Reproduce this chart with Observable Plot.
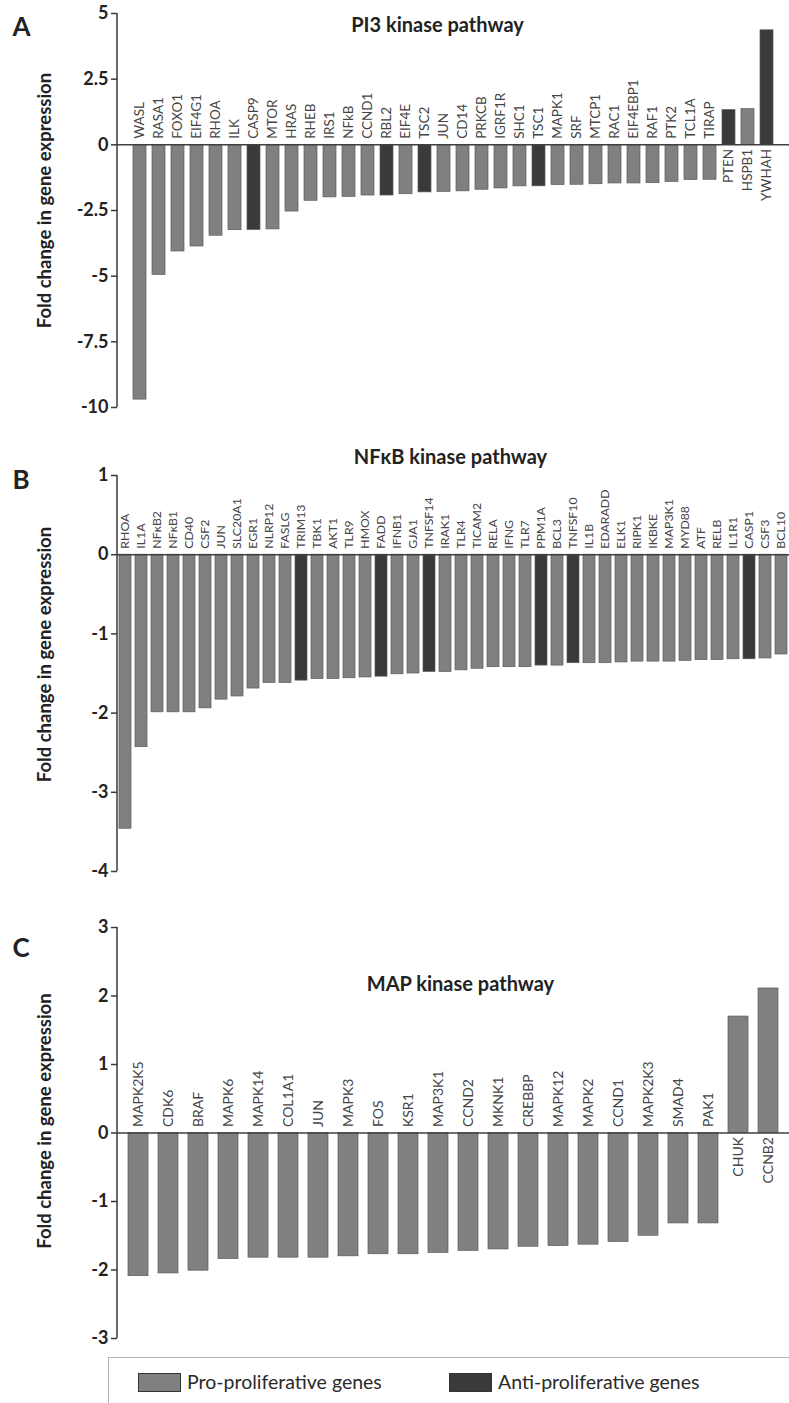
<!DOCTYPE html>
<html><head><meta charset="utf-8">
<script src="https://cdn.jsdelivr.net/npm/d3@7"></script>
<script src="https://cdn.jsdelivr.net/npm/@observablehq/plot@0.6"></script>
<style>
body{margin:0;background:#fff;font-family:Lato,"Open Sans",sans-serif;}
#wrap{position:relative;width:789px;height:1403px;overflow:hidden;background:#fff}
#wrap svg{display:block}
.legend{position:absolute;left:108px;top:1357px;width:720px;height:70px;border:1px solid #b5b5b5;box-sizing:border-box}
.sw{position:absolute;top:15px;width:43px;height:19px;box-sizing:border-box;border:1.2px solid #333}
.lt{position:absolute;top:12px;font-size:19.5px;color:#2a2a2a;line-height:24px;white-space:nowrap}
</style></head>
<body>
<div id="wrap">
<div id="charts"></div>
<div class="legend">
  <span class="sw" style="left:29px;background:#808080"></span><span class="lt" style="left:78px">Pro-proliferative genes</span>
  <span class="sw" style="left:340px;background:#3a3a3a"></span><span class="lt" style="left:389px">Anti-proliferative genes</span>
</div>
</div>
<script>
// ---- Panel A: PI3 kinase pathway ----
const genesA = ["WASL","RASA1","FOXO1","EIF4G1","RHOA","ILK","CASP9","MTOR","HRAS","RHEB","IRS1","NFkB","CCND1","RBL2","EIF4E","TSC2","JUN","CD14","PRKCB","IGRF1R","SHC1","TSC1","MAPK1","SRF","MTCP1","RAC1","EIF4EBP1","RAF1","PTK2","TCL1A","TIRAP","PTEN","HSPB1","YWHAH"];
const valuesA = [-9.7,-4.95,-4.06,-3.87,-3.46,-3.25,-3.24,-3.22,-2.54,-2.13,-2.0,-1.98,-1.93,-1.93,-1.88,-1.81,-1.79,-1.77,-1.71,-1.66,-1.58,-1.58,-1.53,-1.52,-1.5,-1.47,-1.47,-1.46,-1.41,-1.34,-1.33,1.32,1.36,4.36];
const antiA = ["CASP9","RBL2","TSC2","TSC1","PTEN","YWHAH"];
const ticksA = [5,2.5,0,-2.5,-5,-7.5,-10];
const tickLabelsA = ["5","2.5","0","-2.5","-5","-7.5","-10"];

// ---- Panel B: NFκB kinase pathway ----
const genesB = ["RHOA","IL1A","NFκB2","NFκB1","CD40","CSF2","JUN","SLC20A1","EGR1","NLRP12","FASLG","TRIM13","TBK1","AKT1","TLR9","HMOX","FADD","IFNB1","GJA1","TNFSF14","IRAK1","TLR4","TICAM2","RELA","IFNG","TLR7","PPM1A","BCL3","TNFSF10","IL1B","EDARADD","ELK1","RIPK1","IKBKE","MAP3K1","MYD88","ATF","RELB","IL1R1","CASP1","CSF3","BCL10"];
const valuesB = [-3.46,-2.43,-1.99,-1.99,-1.99,-1.94,-1.83,-1.79,-1.69,-1.62,-1.62,-1.59,-1.57,-1.57,-1.56,-1.55,-1.54,-1.51,-1.5,-1.48,-1.48,-1.46,-1.44,-1.42,-1.42,-1.42,-1.4,-1.4,-1.37,-1.37,-1.37,-1.36,-1.35,-1.35,-1.35,-1.34,-1.33,-1.33,-1.32,-1.32,-1.31,-1.26];
const antiB = ["TRIM13","FADD","TNFSF14","PPM1A","TNFSF10","CASP1"];
const ticksB = [1,0,-1,-2,-3,-4];
const tickLabelsB = ["1","0","-1","-2","-3","-4"];

// ---- Panel C: MAP kinase pathway ----
const genesC = ["MAPK2K5","CDK6","BRAF","MAPK6","MAPK14","COL1A1","JUN","MAPK3","FOS","KSR1","MAP3K1","CCND2","MKNK1","CREBBP","MAPK12","MAPK2","CCND1","MAPK2K3","SMAD4","PAK1","CHUK","CCNB2"];
const valuesC = [-2.09,-2.05,-2.01,-1.84,-1.82,-1.82,-1.82,-1.8,-1.77,-1.77,-1.75,-1.72,-1.7,-1.66,-1.65,-1.63,-1.59,-1.5,-1.32,-1.32,1.7,2.11];
const antiC = [];
const ticksC = [3,2,1,0,-1,-2,-3];
const tickLabelsC = ["3","2","1","0","-1","-2","-3"];

const categories = ["Pro-proliferative genes","Anti-proliferative genes"];
const yLabel = "Fold change in gene expression";

function panel(o) {
  const data = o.genes.map((g, i) => ({gene: g, value: o.values[i], type: o.anti.includes(g) ? categories[1] : categories[0]}));
  const fmt = new Map(o.ticks.map((t, i) => [t, o.tickLabels[i]]));
  const domain = [Math.min(...o.ticks), Math.max(...o.ticks)];
  const axisLine = function () {
    const args = Array.from(arguments);
    const sc = args.find(a => a && typeof a.y === "function") || args[1];
    const dims = args.find(a => a && a.marginLeft !== undefined) || args[3];
    const el = document.createElementNS("http://www.w3.org/2000/svg", "line");
    el.setAttribute("x1", dims.marginLeft); el.setAttribute("x2", dims.marginLeft);
    el.setAttribute("y1", sc.y(domain[1])); el.setAttribute("y2", sc.y(domain[0]));
    el.setAttribute("stroke", "#3a3a3a"); el.setAttribute("stroke-width", "1.5");
    return el;
  };
  return Plot.plot({
    width: 789, height: o.height, marginTop: o.marginTop, marginBottom: o.marginBottom,
    marginLeft: 117, marginRight: 0,
    style: {fontFamily: "Lato, 'Open Sans', sans-serif", background: "white", overflow: "visible"},
    x: {domain: o.genes, paddingInner: o.padIn, paddingOuter: o.padOut, axis: null},
    y: {domain, axis: null},
    color: {domain: categories, range: ["#808080", "#3a3a3a"]},
    marks: [
      Plot.barY(data, {x: "gene", y: "value", fill: "type", stroke: "#5a5a5a", strokeWidth: 0.7}),
      Plot.ruleY([0], {stroke: "#3f3f3f", strokeWidth: 1.5}),
      Plot.axisY({ticks: o.ticks, tickFormat: d => fmt.get(d), tickSize: 6, tickPadding: 3, fontSize: 18, fontWeight: "bold", label: null, stroke: "#3a3a3a", strokeWidth: 1.5, fill: "#222"}),
      axisLine,
      Plot.text(data.filter(d => d.value < 0), {x: "gene", y: 0, text: "gene", rotate: -90, textAnchor: "start", lineAnchor: "middle", dy: -6, fontSize: o.geneFont, fill: "#444"}),
      Plot.text(data.filter(d => d.value > 0), {x: "gene", y: 0, text: "gene", rotate: -90, textAnchor: "end", lineAnchor: "middle", dy: 4, fontSize: o.geneFont, fill: "#444"}),
      Plot.text([o.title], {frameAnchor: "top", dx: o.titleDx, dy: o.titleDy, textAnchor: "middle", lineAnchor: "middle", fontWeight: "bold", fontSize: 20, fill: "#222"}),
      Plot.text([o.letter], {frameAnchor: "top-left", dx: -105, dy: o.letterDy, textAnchor: "start", lineAnchor: "middle", fontWeight: "bold", fontSize: 26, fill: "#222"}),
      Plot.text([yLabel], {frameAnchor: "left", dx: -72, dy: o.labelDy, rotate: -90, textAnchor: "middle", lineAnchor: "middle", fontWeight: "bold", fontSize: 18.5, fill: "#222"})
    ]
  });
}

const charts = document.getElementById("charts");
charts.append(panel({genes: genesA, values: valuesA, anti: antiA, ticks: ticksA, tickLabels: tickLabelsA,
  height: 440, marginTop: 13, marginBottom: 33, padIn: 0.33, padOut: 0.15, geneFont: 13.5,
  title: "PI3 kinase pathway", titleDx: -16, titleDy: 12, letter: "A", letterDy: 14, labelDy: -10}));
charts.append(panel({genes: genesB, values: valuesB, anti: antiB, ticks: ticksB, tickLabels: tickLabelsB,
  height: 450, marginTop: 35, marginBottom: 19, padIn: 0.27, padOut: 0.08, geneFont: 12.3,
  title: "NFκB kinase pathway", titleDx: -3, titleDy: -18, letter: "B", letterDy: 5, labelDy: -19}));
charts.append(panel({genes: genesC, values: valuesC, anti: antiC, ticks: ticksC, tickLabels: tickLabelsC,
  height: 460, marginTop: 37, marginBottom: 12, padIn: 0.33, padOut: 0.1, geneFont: 14,
  title: "MAP kinase pathway", titleDx: 7, titleDy: 57, letter: "C", letterDy: 21, labelDy: -12}));
</script>
</body></html>
